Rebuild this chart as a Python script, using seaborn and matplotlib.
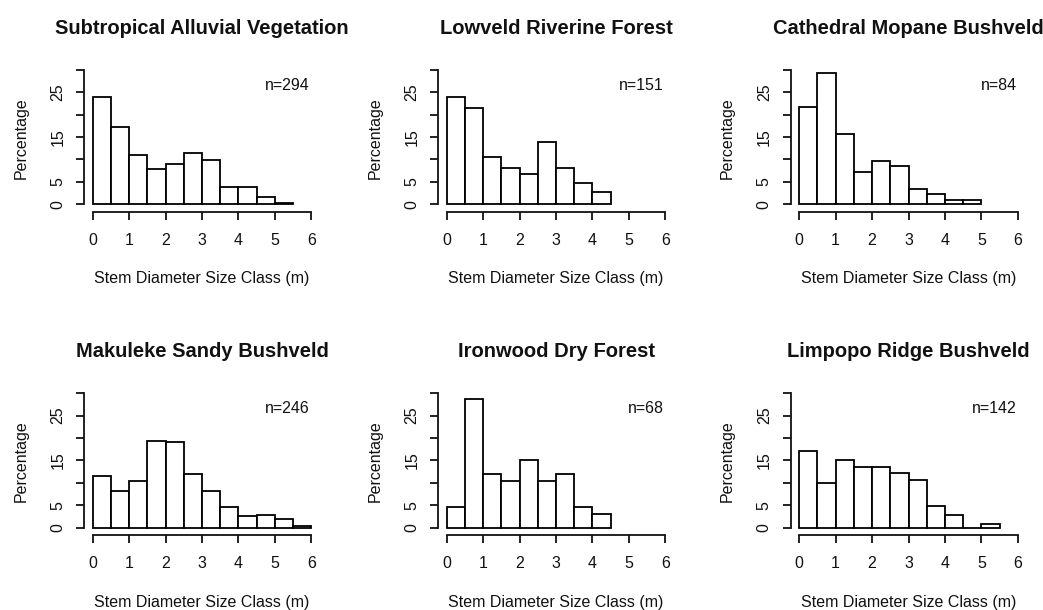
import numpy as np
import pandas as pd
import matplotlib
matplotlib.use("Agg")
import matplotlib.pyplot as plt
import seaborn as sns

# ---- data (percentages per 0.5 m size class, starting at 0) ----
titles = ["Subtropical Alluvial Vegetation", "Lowveld Riverine Forest",
          "Cathedral Mopane Bushveld", "Makuleke Sandy Bushveld",
          "Ironwood Dry Forest", "Limpopo Ridge Bushveld"]
n_labels = ["n=294", "n=151", "n=84", "n=246", "n=68", "n=142"]
sav = [24.0, 17.3, 10.9, 7.8, 8.9, 11.5, 9.9, 3.8, 3.8, 1.7, 0.3]
lrf = [24.0, 21.4, 10.6, 8.1, 6.8, 14.0, 8.1, 4.8, 2.7]
cmb = [21.7, 29.2, 15.6, 7.1, 9.6, 8.5, 3.4, 2.4, 1.0, 1.0]
msb = [11.6, 8.1, 10.3, 19.3, 19.1, 11.9, 8.1, 4.5, 2.5, 2.8, 2.0, 0.4]
idf = [4.5, 28.6, 11.9, 10.5, 15.0, 10.5, 11.9, 4.5, 3.0]
lrb = [17.0, 9.9, 15.0, 13.5, 13.5, 12.2, 10.6, 4.8, 2.8, 0.0, 0.7]
series = [sav, lrf, cmb, msb, idf, lrb]
bin_width = 0.5
x_ticks = [0, 1, 2, 3, 4, 5, 6]
y_ticks = [0, 5, 10, 15, 20, 25, 30]
y_ticklabels = ["0", "5", "", "15", "", "25", ""]
xlabel = "Stem Diameter Size Class (m)"
ylabel = "Percentage"

sns.set_style("ticks")
plt.rcParams["font.family"] = ["Liberation Sans", "DejaVu Sans"]
plt.rcParams["text.color"] = "#111111"
plt.rcParams["axes.labelcolor"] = "#111111"
plt.rcParams["xtick.color"] = "#111111"
plt.rcParams["ytick.color"] = "#111111"

W, H = 1043, 610
fig = plt.figure(figsize=(W / 100, H / 100), dpi=100)

col_left = [84, 438, 790.5]
col_width = 236
row_bottom = [211.7, 535.0]
ax_h = 147.2

for i, vals in enumerate(series):
    r, c = divmod(i, 3)
    ax = fig.add_axes([col_left[c] / W, 1 - row_bottom[r] / H, col_width / W, ax_h / H])
    nb = len(vals)
    mids = (np.arange(nb) + 0.5) * bin_width
    df = pd.DataFrame({"size": mids, "pct": vals})
    sns.histplot(data=df, x="size", weights="pct", binwidth=bin_width,
                 binrange=(0, nb * bin_width), stat="count",
                 color="white", edgecolor="black", linewidth=1.3, alpha=1, ax=ax)
    ax.set_xlim(-0.24, 6.24)
    ax.set_ylim(-1.65, 31.2)
    for s in ["top", "right"]:
        ax.spines[s].set_visible(False)
    ax.spines["left"].set_bounds(0, 30)
    ax.spines["bottom"].set_bounds(0, 6)
    for s in ["left", "bottom"]:
        ax.spines[s].set_linewidth(1.3)
        ax.spines[s].set_color("#111111")
    ax.set_xticks(x_ticks)
    ax.set_xticklabels([str(t) for t in x_ticks])
    ax.set_yticks(y_ticks)
    ax.set_yticklabels(y_ticklabels, rotation=90, va="center")
    ax.tick_params(axis="both", length=5.5, width=1.3, labelsize=11.5,
                   direction="out", bottom=True, left=True)
    ax.tick_params(axis="x", pad=9.5)
    ax.tick_params(axis="y", pad=8)
    ax.set_xlabel(xlabel, fontsize=11.5)
    ax.xaxis.set_label_coords(0.5, -0.405)
    ax.set_ylabel(ylabel, fontsize=11.5)
    ax.yaxis.set_label_coords(-0.235, 0.5)
    ax.set_title(titles[i], fontsize=14.5, fontweight="bold", pad=22)
    ax.text(5.97, 26.6, n_labels[i], ha="right", va="center", fontsize=11.5)

fig.savefig("out.png", dpi=100, facecolor="white")
